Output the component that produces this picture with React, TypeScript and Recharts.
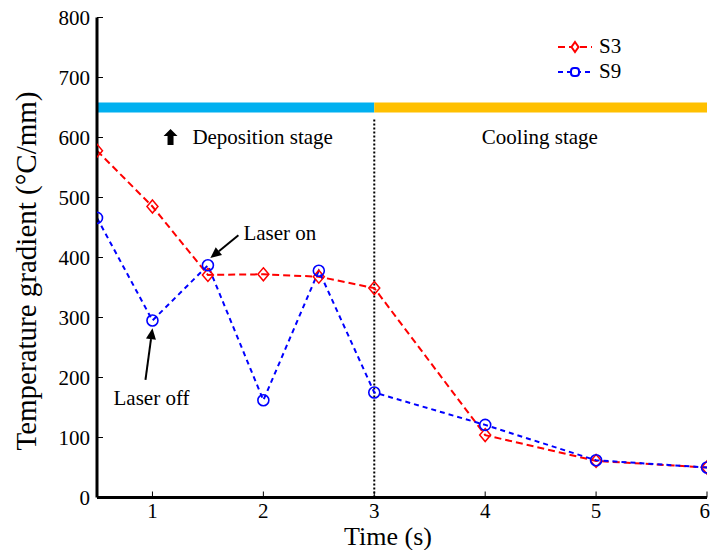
import {
  LineChart,
  Line,
  XAxis,
  YAxis,
  ReferenceLine,
  ReferenceDot,
} from 'recharts';

const times = [0.5, 1, 1.5, 2, 2.5, 3, 4, 5, 6];
const s3 = [578, 485, 371, 372, 368, 349, 104, 61, 50];
const s9 = [466, 295, 387, 162, 378, 175, 121, 62, 50];

const xTicks = [1, 2, 3, 4, 5, 6];
const yTicks = [0, 100, 200, 300, 400, 500, 600, 700, 800];

// stage bar and divider, in data units
const stageLevel = 650;
const stageSplit = 3;
const dividerTop = 632;

const stageLabels = [
  { text: 'Deposition stage', x: 1.36, y: 601 },
  { text: 'Cooling stage', x: 3.97, y: 601 },
];
const stageArrow = { x: 1.163, y: 601 };

const notes = [
  { text: 'Laser on', x: 1.82, y: 441, from: { x: 1.775, y: 437 }, to: { x: 1.522, y: 399 } },
  { text: 'Laser off', x: 0.649, y: 166, from: { x: 0.937, y: 196 }, to: { x: 1.0, y: 282 } },
];

const data = times.map((t, i) => ({ t, s3: s3[i], s9: s9[i] }));

const FONT = '"Liberation Serif", "Times New Roman", serif';
const RED = '#ff0000';
const BLUE = '#0000ff';
const txt = { fontFamily: FONT };

const Diamond = ({ cx, cy }: any) => (
  <path
    d={`M${cx},${cy - 6.5}L${cx + 5.5},${cy}L${cx},${cy + 6.5}L${cx - 5.5},${cy}Z`}
    fill="none"
    stroke={RED}
    strokeWidth={1.5}
  />
);

const Ring = ({ cx, cy }: any) => (
  <circle cx={cx} cy={cy} r={5.5} fill="none" stroke={BLUE} strokeWidth={1.6} />
);

const Arrow = ({ x1, y1, x2, y2 }: any) => {
  const a = Math.atan2(y2 - y1, x2 - x1);
  const len = 11;
  const w = 5;
  const bx = x2 - len * Math.cos(a);
  const by = y2 - len * Math.sin(a);
  const px = -Math.sin(a) * w;
  const py = Math.cos(a) * w;
  return (
    <g>
      <line x1={x1} y1={y1} x2={bx} y2={by} stroke="#000" strokeWidth={2} />
      <path d={`M${x2},${y2}L${bx + px},${by + py}L${bx - px},${by - py}Z`} fill="#000" />
    </g>
  );
};

const legendItems = [
  { label: 'S3', color: RED, dash: '7 4', marker: 'diamond' },
  { label: 'S9', color: BLUE, dash: '5 4', marker: 'circle' },
];

const LegendBox = () => (
  <div
    style={{
      position: 'absolute',
      left: 556,
      top: 34,
      fontFamily: FONT,
      fontSize: 21,
      lineHeight: '25px',
    }}
  >
    {legendItems.map((it) => (
      <div key={it.label} style={{ display: 'flex', alignItems: 'center', height: 25 }}>
        <svg width={40} height={14}>
          <line x1={2} y1={7} x2={36} y2={7} stroke={it.color} strokeWidth={2} strokeDasharray={it.dash} />
          {it.marker === 'diamond' ? (
            <path d="M19,2L22.5,7L19,12L15.5,7Z" fill="#fff" stroke={it.color} strokeWidth={2} />
          ) : (
            <rect x={15} y={3} width={8} height={8} rx={3} fill="#fff" stroke={it.color} strokeWidth={2} />
          )}
        </svg>
        <span style={{ marginLeft: 3, color: '#000' }}>{it.label}</span>
      </div>
    ))}
  </div>
);

export default function App() {
  const tickStyle = { fontSize: 21, fill: '#000', fontFamily: FONT, style: txt };
  return (
    <div style={{ position: 'absolute', left: 0, top: 0, width: 710, height: 550, background: '#fff', fontFamily: FONT }}>
      <LineChart
        width={710}
        height={550}
        data={data}
        margin={{ top: 17.5, right: 3, left: 37, bottom: 0.5 }}
        style={txt}
      >
        <XAxis
          dataKey="t"
          type="number"
          domain={[0.5, 6]}
          ticks={xTicks}
          allowDataOverflow
          height={52}
          tick={tickStyle}
          tickSize={-6}
          tickMargin={12}
          tickLine={{ stroke: '#000', strokeWidth: 1 }}
          axisLine={{ stroke: '#000', strokeWidth: 3 }}
          label={{
            content: () => (
              <text x={388} y={545} textAnchor="middle" fontSize={26} style={txt} fill="#000">
                Time (s)
              </text>
            ),
          }}
        />
        <XAxis
          xAxisId="top"
          orientation="top"
          dataKey="t"
          type="number"
          domain={[0.5, 6]}
          ticks={xTicks}
          allowDataOverflow
          height={0}
          tickFormatter={() => ''}
          tickSize={-6}
          tickLine={{ stroke: '#000', strokeWidth: 1 }}
          axisLine={{ stroke: '#000', strokeWidth: 2 }}
        />
        <YAxis
          type="number"
          domain={[0, 800]}
          ticks={yTicks}
          width={60}
          tick={tickStyle}
          tickSize={-6}
          tickMargin={13}
          tickLine={{ stroke: '#000', strokeWidth: 1 }}
          axisLine={{ stroke: '#000', strokeWidth: 3 }}
          label={{
            content: () => (
              <text
                x={36}
                y={271}
                transform="rotate(-90 36 271)"
                textAnchor="middle"
                fontSize={29}
                style={txt}
                fill="#000"
              >
                Temperature gradient (°C/mm)
              </text>
            ),
          }}
        />
        <YAxis
          yAxisId="right"
          orientation="right"
          type="number"
          domain={[0, 800]}
          ticks={yTicks}
          width={0}
          tickFormatter={() => ''}
          tickSize={-6}
          tickLine={{ stroke: '#000', strokeWidth: 1 }}
          axisLine={{ stroke: '#000', strokeWidth: 2 }}
        />
        <ReferenceLine
          segment={[{ x: 0.5, y: stageLevel }, { x: stageSplit, y: stageLevel }]}
          stroke="#00b0f0"
          strokeWidth={10}
        />
        <ReferenceLine
          segment={[{ x: stageSplit, y: stageLevel }, { x: 6, y: stageLevel }]}
          stroke="#ffc000"
          strokeWidth={10}
        />
        <ReferenceLine
          segment={[{ x: stageSplit, y: 0 }, { x: stageSplit, y: dividerTop }]}
          stroke="#000"
          strokeWidth={2}
          strokeDasharray="2 2"
        />
        {stageLabels.map((s) => (
          <ReferenceDot
            key={s.text}
            x={s.x}
            y={s.y}
            r={0}
            shape={({ cx, cy }: any) => (
              <text x={cx} y={cy} dy="0.35em" fontSize={21} style={txt} fill="#000">
                {s.text}
              </text>
            )}
          />
        ))}
        <ReferenceDot
          x={stageArrow.x}
          y={stageArrow.y}
          r={0}
          shape={({ cx, cy }: any) => (
            <path
              d={`M${cx},${cy - 8}L${cx + 7},${cy - 1}L${cx + 3},${cy - 1}L${cx + 3},${cy + 8}L${cx - 3},${cy + 8}L${cx - 3},${cy - 1}L${cx - 7},${cy - 1}Z`}
              fill="#000"
            />
          )}
        />
        {notes.map((n) => (
          <ReferenceDot
            key={n.text}
            x={n.x}
            y={n.y}
            r={0}
            shape={({ cx, cy }: any) => (
              <text x={cx} y={cy} dy="0.35em" fontSize={21} style={txt} fill="#000">
                {n.text}
              </text>
            )}
          />
        ))}
        {notes.map((n) => (
          <ReferenceLine
            key={n.text + '-arrow'}
            segment={[n.from, n.to]}
            stroke="#000"
            shape={(p: any) => <Arrow x1={p.x1} y1={p.y1} x2={p.x2} y2={p.y2} />}
          />
        ))}
        <Line
          dataKey="s3"
          name="S3"
          stroke={RED}
          strokeWidth={2}
          strokeDasharray="7 4"
          dot={<Diamond />}
          isAnimationActive={false}
        />
        <Line
          dataKey="s9"
          name="S9"
          stroke={BLUE}
          strokeWidth={2}
          strokeDasharray="5 4"
          dot={<Ring />}
          isAnimationActive={false}
        />
      </LineChart>
      <LegendBox />
    </div>
  );
}
